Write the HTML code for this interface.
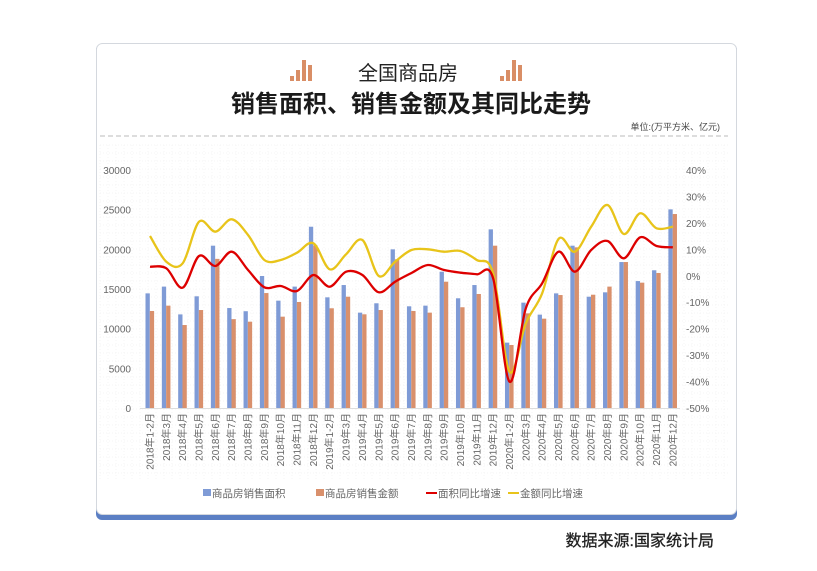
<!DOCTYPE html>
<html><head><meta charset="utf-8"><style>
html,body{margin:0;padding:0;background:#fff;width:817px;height:571px;overflow:hidden;font-family:"Liberation Sans","Noto Sans CJK SC",sans-serif}
</style></head><body>
<svg id="s" width="817" height="571" xmlns="http://www.w3.org/2000/svg" font-family="Liberation Sans, Noto Sans CJK SC, sans-serif">
<rect x="96" y="44" width="641" height="476" rx="6" fill="#5b7fc4"/>
<rect x="96.5" y="43.5" width="640" height="471" rx="6" fill="#fff" stroke="#d4d8de"/>
<g fill="#d98e66">
<rect x="290" y="76" width="4" height="5"/><rect x="296" y="70" width="4" height="11"/><rect x="302" y="60" width="4" height="21"/><rect x="308" y="65" width="4" height="16"/>
<rect x="500" y="76" width="4" height="5"/><rect x="506" y="70" width="4" height="11"/><rect x="512" y="60" width="4" height="21"/><rect x="518" y="65" width="4" height="16"/>
</g>
<text x="408" y="80" font-size="20" text-anchor="middle" fill="#222">全国商品房</text>
<text x="411" y="112" font-size="24" font-weight="bold" text-anchor="middle" fill="#1a1a1a">销售面积、销售金额及其同比走势</text>
<text x="720" y="130" font-size="9" text-anchor="end" fill="#444">单位:(万平方米、亿元)</text>
<line x1="100" y1="136" x2="728" y2="136" stroke="#bbb" stroke-dasharray="5,3"/>
<g id="grid" stroke="#eee" stroke-width="0.6"></g>
<g id="bars"></g>
<g id="lines" fill="none" stroke-width="2.3"></g>
<g id="lab" font-size="10" fill="#666"></g>
<g font-size="10.5" fill="#666">
<rect x="203" y="489" width="8" height="7" fill="#7f9bd6"/><text x="212" y="497">商品房销售面积</text>
<rect x="316" y="489" width="8" height="7" fill="#d9906c"/><text x="325" y="497">商品房销售金额</text>
<line x1="426" y1="493" x2="437" y2="493" stroke="#d00" stroke-width="2"/><text x="438" y="497">面积同比增速</text>
<line x1="508" y1="493" x2="519" y2="493" stroke="#e8c41a" stroke-width="2"/><text x="520" y="497">金额同比增速</text>
</g>
<text x="714" y="546" font-size="16" text-anchor="end" fill="#222" stroke="#222" stroke-width="0.3">数据来源:国家统计局</text>
</svg>
<script>
var NS="http://www.w3.org/2000/svg",s=document.getElementById('s');
function el(p,t,a,txt){var e=document.createElementNS(NS,t);for(var k in a)e.setAttribute(k,a[k]);if(txt!=null)e.textContent=txt;document.getElementById(p).appendChild(e);return e;}
var A=[14450,15300,11800,14080,20460,12600,12200,16640,13530,15300,22850,13950,15500,12020,13200,20000,12820,12900,17180,13830,15500,22520,8240,13280,11770,14450,20460,14030,14580,18400,16000,17360,25040];
var B=[12230,12900,10460,12350,18800,11200,10880,14490,11510,13360,20500,12570,14030,11810,12350,18740,12230,12020,15920,12700,14370,20460,7940,11930,11260,14240,20250,14280,15300,18400,15800,17020,24450];
var R=[266.7,268.3,287.7,256,266,251.7,270,287.3,286,291,275,286.7,271.7,275,292.3,281.7,273,265,270,272.7,274.3,278.3,381.7,308.3,283.3,251.7,271.7,250,241,258.3,237.3,246,247.3];
var Y=[236,261.7,263.3,221.7,231.7,219.3,235,260,260,252.7,243.3,269.3,254.3,240,276,261.7,250,249.3,251.7,251,260,273.3,371.7,323.3,293.3,239,251.7,226.7,205,234,213.3,228.3,226.7];
var labs=[];for(var y=2018;y<=2020;y++){labs.push(y+'年1-2月');for(var m=3;m<=12;m++)labs.push(y+'年'+m+'月');}
var x0=150,dx=16.34,base=408,k=238/30000;
for(var gx=100;gx<=728;gx+=8)el('grid','line',{x1:gx,y1:145,x2:gx,y2:480,'stroke-dasharray':'1,2'});
for(var gy=145;gy<=480;gy+=8)el('grid','line',{x1:100,y1:gy,x2:728,y2:gy,'stroke-dasharray':'1,2'});
el('grid','line',{x1:140,y1:408.5,x2:680,y2:408.5,stroke:'#ddd','stroke-width':1});
for(var i=0;i<33;i++){var cx=x0+i*dx;
el('bars','rect',{x:cx-4.5,y:base-A[i]*k,width:4.3,height:A[i]*k,fill:'#7f9bd6'});
el('bars','rect',{x:cx-0.2,y:base-B[i]*k,width:4.3,height:B[i]*k,fill:'#d9906c'});
el('lab','text',{transform:'translate('+(cx+3.5)+',413) rotate(-90)','text-anchor':'end'},labs[i]);}
for(var v=0;v<=6;v++)el('lab','text',{x:131,y:412-v*39.67,'text-anchor':'end'},v*5000);
for(var v=0;v<=9;v++)el('lab','text',{x:686,y:412-v*26.44},(v*10-50)+'%');
function path(P){var pts=P.map(function(y,i){return[x0+i*dx,y]});var d='M'+pts[0][0]+','+pts[0][1];
for(var i=0;i<pts.length-1;i++){var p0=pts[i-1]||pts[i],p1=pts[i],p2=pts[i+1],p3=pts[i+2]||p2;
d+=' C'+(p1[0]+(p2[0]-p0[0])/6)+','+(p1[1]+(p2[1]-p0[1])/6)+' '+(p2[0]-(p3[0]-p1[0])/6)+','+(p2[1]-(p3[1]-p1[1])/6)+' '+p2[0]+','+p2[1];}return d;}
el('lines','path',{d:path(Y),stroke:'#e8c41a'});
el('lines','path',{d:path(R),stroke:'#dd0000'});
</script>
</body></html>
